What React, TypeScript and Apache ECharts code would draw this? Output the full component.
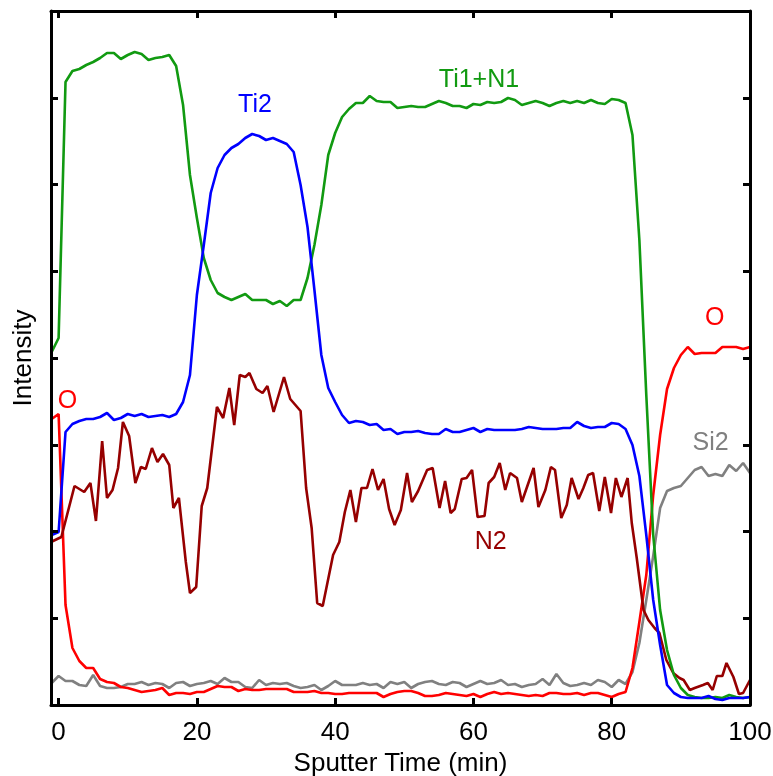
import React, { useEffect, useRef } from 'react'
import * as echarts from 'echarts'

// sputter time grid (min) for the smooth profiles
const TIME = Array.from({ length: 102 }, (_, i) => i - 1)

const TI1_N1 = [
  353, 367,
  623, 634, 636, 640, 643, 647, 652, 652, 646, 650,
  653, 651, 645, 647, 648, 650, 639, 600, 530, 487,
  447, 425, 412, 408, 405, 408, 411, 405, 405, 405,
  401, 404, 399, 405, 405, 427, 460, 500, 550, 572,
  588, 596, 602, 602, 609, 604, 603, 603, 597, 598,
  599, 598, 598, 601, 604, 602, 599, 599, 597, 601,
  600, 603, 602, 603, 607, 605, 600, 602, 604, 602,
  599, 602, 604, 602, 604, 602, 605, 602, 601, 606,
  605, 602, 570, 465, 310, 170, 95, 55, 30, 17,
  10, 8, 7, 7, 8, 7, 10, 8, 7, 8,
]

const TI2 = [
  170, 173,
  273, 281, 284, 286, 286, 288, 292, 285, 287, 291,
  289, 291, 288, 289, 290, 288, 291, 303, 330, 410,
  460, 512, 537, 550, 557, 561, 567, 571, 569, 565,
  567, 564, 561, 553, 520, 478, 415, 350, 317, 303,
  290, 282, 284, 283, 280, 281, 275, 276, 271, 273,
  273, 274, 272, 271, 271, 276, 273, 273, 275, 277,
  273, 276, 275, 275, 275, 275, 276, 278, 277, 276,
  276, 276, 277, 277, 283, 279, 277, 278, 278, 282,
  281, 276, 260, 229, 170, 105, 60, 20, 12, 8,
  7, 7, 7, 9, 6, 5, 7, 7, 7, 8,
]

const O = [
  286, 291,
  100, 57, 44, 37, 37, 26, 23, 22, 18, 17,
  15, 13, 14, 15, 17, 10, 12, 12, 11, 13,
  13, 16, 19, 18, 18, 14, 16, 15, 15, 16,
  16, 16, 16, 13, 13, 13, 14, 12, 12, 11,
  11, 12, 12, 12, 12, 12, 8, 11, 13, 14,
  14, 12, 9, 9, 10, 12, 11, 10, 9, 11,
  8, 11, 13, 11, 12, 11, 10, 9, 10, 9,
  12, 12, 11, 11, 12, 10, 12, 12, 10, 8,
  11, 13, 37, 83, 130, 210, 270, 316, 337, 350,
  358, 351, 352, 352, 352, 358, 358, 358, 356, 358,
]

const SI2 = [
  22, 29,
  24, 24, 20, 19, 30, 19, 17, 17, 18, 21,
  21, 23, 20, 22, 21, 17, 22, 23, 19, 21,
  22, 24, 21, 27, 23, 23, 18, 17, 25, 20,
  22, 21, 22, 19, 17, 18, 20, 15, 19, 24,
  20, 20, 20, 22, 20, 21, 17, 23, 21, 23,
  17, 21, 23, 24, 21, 20, 23, 22, 18, 21,
  24, 21, 22, 25, 20, 21, 18, 20, 21, 26,
  20, 31, 22, 19, 20, 22, 20, 25, 23, 18,
  25, 21, 33, 62, 105, 149, 197, 214, 217, 219,
  227, 235, 238, 229, 231, 229, 240, 234, 242, 232,
]

// N2 is noisier, read at its own sample times
const N2_TIME = [
  -1.1, 0.4, 2.3, 3.7, 4.6, 5.4, 6.3, 7.0, 7.8, 8.6,
  9.3, 10.2, 11.1, 11.9, 12.6, 13.5, 14.3, 15.1, 16.0, 16.6,
  17.4, 18.4, 19.0, 19.9, 20.7, 21.5, 22.9, 23.8, 24.7, 25.4,
  26.2, 27.0, 27.6, 28.6, 29.5, 30.2, 31.1, 32.6, 33.5, 35.0,
  35.8, 36.6, 37.4, 38.2, 39.7, 40.6, 41.4, 42.2, 43.0, 43.8,
  44.6, 45.4, 46.2, 47.0, 47.8, 48.6, 49.5, 50.4, 51.1, 52.0,
  53.3, 54.1, 55.1, 55.9, 56.7, 57.3, 58.3, 59.0, 59.8, 60.6,
  61.6, 62.2, 63.0, 63.8, 64.6, 65.3, 66.3, 67.0, 68.7, 69.4,
  70.4, 71.2, 71.8, 72.7, 73.5, 74.2, 75.2, 75.9, 76.6, 77.3,
  78.2, 79.0, 79.9, 80.6, 81.4, 82.3, 82.9, 83.6, 84.6, 85.3,
  86.2, 86.9, 87.9, 88.9, 89.8, 90.4, 91.3, 92.0, 93.2, 93.9,
  94.6, 95.2, 96.0, 96.6, 97.6, 98.4, 99.0, 100.0,
]

const N2 = [
  163, 168, 219, 213, 222, 184, 264, 207, 215, 237,
  283, 269, 222, 238, 236, 257, 243, 251, 240, 197,
  207, 143, 112, 118, 199, 217, 298, 287, 317, 280,
  330, 328, 332, 316, 312, 319, 293, 328, 306, 294,
  217, 177, 102, 99, 150, 163, 193, 215, 183, 217,
  217, 236, 215, 226, 196, 180, 195, 232, 203, 214,
  235, 237, 197, 224, 192, 196, 226, 227, 235, 188,
  189, 222, 228, 242, 215, 232, 227, 203, 237, 198,
  215, 238, 235, 187, 200, 227, 206, 217, 230, 232,
  194, 228, 192, 227, 208, 227, 182, 148, 95, 85,
  77, 72, 45, 32, 27, 25, 15, 17, 20, 22,
  15, 29, 29, 42, 28, 11, 12, 25,
]

const X_TICKS = [0, 20, 40, 60, 80, 100]
const Y_MAX = 694
const Y_STEP = 86.75

// in-plot labels: [text, time, intensity, color]
const ANNOTATIONS: [string, number, number, string][] = [
  ['Ti2', 28.4, 602, '#0000ff'],
  ['Ti1+N1', 60.8, 627, '#119a11'],
  ['O', 1.3, 306, '#ff0000'],
  ['O', 94.9, 389, '#ff0000'],
  ['Si2', 94.3, 264, '#808080'],
  ['N2', 62.5, 165, '#960000'],
]

const FONT = '"Liberation Sans", Arial, sans-serif'

export default function App() {
  const chartRef = useRef<HTMLDivElement | null>(null)

  useEffect(() => {
    if (!chartRef.current) return
    const chart = echarts.init(chartRef.current, null, { renderer: 'svg' })

    const tick = () => ({
      show: true,
      inside: true,
      length: 7,
      lineStyle: { color: '#000', width: 3 },
    })
    const line = (
      name: string,
      xs: number[],
      ys: number[],
      color: string,
      axis = 0
    ) => ({
      name,
      type: 'line',
      xAxisIndex: axis,
      yAxisIndex: axis,
      data: xs.map((t, i) => [t, ys[i]]),
      showSymbol: false,
      symbol: 'none',
      lineStyle: { color, width: 2.6 },
      itemStyle: { color },
    })
    const frameSide = { show: true, onZero: false, lineStyle: { color: '#000', width: 3 } }

    chart.setOption({
      animation: false,
      textStyle: { fontFamily: FONT },
      grid: {
        left: 51,
        right: 23,
        top: 11,
        bottom: 71,
        outerBoundsMode: 'none',
        containLabel: false,
      },
      xAxis: [
        {
          type: 'value',
          position: 'bottom',
          min: -1.1,
          max: 100,
          z: 5,
          axisLine: frameSide,
          splitLine: { show: false },
          axisTick: { ...tick(), customValues: X_TICKS },
          axisLabel: {
            customValues: X_TICKS,
            fontSize: 26,
            color: '#000',
            margin: 13,
            fontFamily: FONT,
          },
          name: 'Sputter Time (min)',
          nameLocation: 'middle',
          nameGap: 43,
          nameTextStyle: { fontSize: 26, color: '#000', fontFamily: FONT },
        },
        {
          type: 'value',
          position: 'top',
          min: -1.1,
          max: 100,
          z: 5,
          axisLine: frameSide,
          splitLine: { show: false },
          axisTick: { ...tick(), customValues: X_TICKS },
          axisLabel: { show: false },
        },
      ],
      yAxis: [
        {
          type: 'value',
          position: 'left',
          min: 0,
          max: Y_MAX,
          interval: Y_STEP,
          z: 5,
          axisLine: frameSide,
          splitLine: { show: false },
          axisTick: tick(),
          axisLabel: { show: false },
          name: 'Intensity',
          nameLocation: 'middle',
          nameGap: 16,
          nameTextStyle: { fontSize: 26, color: '#000', fontFamily: FONT },
        },
        {
          type: 'value',
          position: 'right',
          min: 0,
          max: Y_MAX,
          interval: Y_STEP,
          z: 5,
          axisLine: frameSide,
          splitLine: { show: false },
          axisTick: tick(),
          axisLabel: { show: false },
        },
      ],
      series: [
        // same scales on both axis pairs, so this also keeps the top/right axes in use
        line('Si2', TIME, SI2, '#808080', 1),
        line('O', TIME, O, '#ff0000'),
        line('N2', N2_TIME, N2, '#960000'),
        line('Ti1+N1', TIME, TI1_N1, '#119a11'),
        line('Ti2', TIME, TI2, '#0000ff'),
      ],
    })

    chart.setOption({
      graphic: ANNOTATIONS.map(([text, t, v, color]) => {
        const [x, y] = chart.convertToPixel({ xAxisIndex: 0, yAxisIndex: 0 }, [t, v])
        return {
          type: 'text',
          x,
          y,
          style: {
            text,
            fill: color,
            fontSize: 25,
            fontFamily: FONT,
            align: 'center',
            verticalAlign: 'middle',
            textAlign: 'center',
            textVerticalAlign: 'middle',
          },
        }
      }),
    })

    return () => {
      chart.dispose()
    }
  }, [])

  return (
    <div
      ref={chartRef}
      style={{ position: 'fixed', left: 0, top: 0, width: '773px', height: '776px' }}
    />
  )
}
